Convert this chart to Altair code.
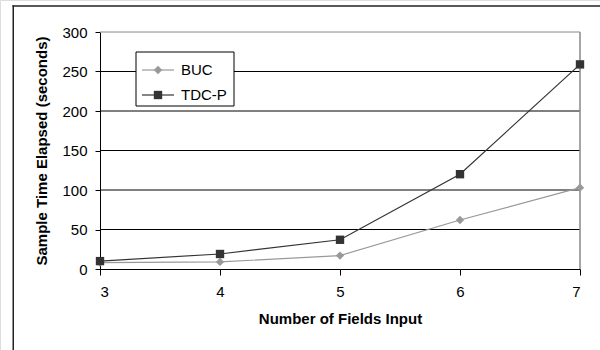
import altair as alt
import pandas as pd

# Number of input fields (x) and elapsed time in seconds for each algorithm
fields = [3, 4, 5, 6, 7]
buc_seconds = [8, 9, 17, 62, 103]
tdcp_seconds = [10, 19, 37, 120, 259]

series_names = ["BUC", "TDC-P"]
series_colors = ["#999999", "#333333"]
series_shapes = ["diamond", "square"]

y_ticks = [0, 50, 100, 150, 200, 250, 300]
grid_values = [50, 100, 150, 200, 250]

rows = []
for name, vals in zip(series_names, [buc_seconds, tdcp_seconds]):
    for f, v in zip(fields, vals):
        rows.append({"fields": f, "seconds": v, "series": name})
df = pd.DataFrame(rows)

FONT = "Liberation Sans"
CANVAS_W, CANVAS_H = 600, 350
# Plot region inside the full-canvas view
PX0, PX1 = 100, 580
PY_TOP, PY_BOTTOM = 32, 269

axis_text = dict(
    labelFont=FONT, labelFontSize=15, labelColor="black",
    titleFont=FONT, titleFontSize=15, titleFontWeight="bold", titleColor="black",
)

x_scale = alt.Scale(domain=[3, 7], range=[PX0, PX1], nice=False, zero=False)
y_scale = alt.Scale(domain=[0, 300], range=[PY_BOTTOM, PY_TOP], nice=False)

x_enc = alt.X(
    "fields:Q", scale=x_scale,
    axis=alt.Axis(
        values=fields, format="d", title="Number of Fields Input",
        grid=False, tickSize=6, tickColor="black", domainColor="black",
        labelPadding=9, titlePadding=12, offset=-(CANVAS_H - PY_BOTTOM), **axis_text,
    ),
)
y_axis = alt.Axis(
    values=y_ticks, title="Sample Time Elapsed (seconds)",
    grid=False, tickSize=5, tickColor="black", domainColor="black",
    labelPadding=8, titlePadding=12, offset=-PX0, **axis_text,
)
y_enc = alt.Y("seconds:Q", scale=y_scale, axis=y_axis)

color_enc = alt.Color(
    "series:N",
    scale=alt.Scale(domain=series_names, range=series_colors),
    legend=None,
)
shape_enc = alt.Shape(
    "series:N",
    scale=alt.Scale(domain=series_names, range=series_shapes),
    legend=None,
)

# Horizontal gridlines at the tick values, plus the grey top edge at 300
grid = alt.Chart(pd.DataFrame({"seconds": grid_values})).mark_rule(
    color="black", strokeWidth=1
).encode(y=y_enc, x=alt.value(PX0), x2=alt.value(PX1))
top_edge = alt.Chart(pd.DataFrame({"seconds": [300]})).mark_rule(
    color="#888888", strokeWidth=1
).encode(y=y_enc, x=alt.value(PX0), x2=alt.value(PX1))
right_edge = alt.Chart(pd.DataFrame({"seconds": [0, 300]})).mark_rule(
    color="#888888", strokeWidth=1
).encode(x=alt.value(PX1), y=alt.value(PY_TOP), y2=alt.value(PY_BOTTOM))

base = alt.Chart(df)
lines = base.mark_line(strokeWidth=1.2).encode(x=x_enc, y=y_enc, color=color_enc)
points = base.mark_point(filled=True, opacity=1, size=70).encode(
    x=x_enc, y=y_enc, color=color_enc, shape=shape_enc
)

one = pd.DataFrame({"k": [0]})

# Outer frame: dark strips along the top and left of the figure
frame_top = alt.Chart(one).mark_rect(fill="#222222", strokeWidth=0).encode(
    x=alt.value(12.5), x2=alt.value(CANVAS_W), y=alt.value(5.25), y2=alt.value(6.75)
)
frame_left = alt.Chart(one).mark_rect(fill="#222222", strokeWidth=0).encode(
    x=alt.value(12.5), x2=alt.value(14), y=alt.value(5.25), y2=alt.value(CANVAS_H)
)

# Boxed legend in the upper left of the plot
legend_box = alt.Chart(one).mark_rect(
    fill="white", stroke="black", strokeWidth=1
).encode(x=alt.value(136), x2=alt.value(234), y=alt.value(52), y2=alt.value(106))

legend_layers = [legend_box]
for i, (name, col, shp) in enumerate(zip(series_names, series_colors, series_shapes)):
    ypos = 70 + 25 * i
    ldf = pd.DataFrame({"series": [name]})
    legend_layers.append(
        alt.Chart(ldf).mark_rule(color=col, strokeWidth=1.2).encode(
            x=alt.value(142), x2=alt.value(174), y=alt.value(ypos)
        )
    )
    legend_layers.append(
        alt.Chart(ldf).mark_point(filled=True, opacity=1, size=70, color=col, shape=shp).encode(
            x=alt.value(158), y=alt.value(ypos)
        )
    )
    legend_layers.append(
        alt.Chart(ldf).mark_text(
            align="left", baseline="middle", font=FONT, fontSize=15, color="black"
        ).encode(x=alt.value(181), y=alt.value(ypos), text="series:N")
    )

chart = alt.layer(
    frame_top, frame_left, grid, top_edge, right_edge, lines, points, *legend_layers
).properties(
    width=CANVAS_W, height=CANVAS_H,
    autosize=alt.AutoSizeParams(type="none"),
    padding=0,
).configure_view(
    stroke="transparent", strokeWidth=0
).configure_axis(
    domainWidth=1, tickWidth=1,
).configure(background="white")

chart.save("out.html", embed_options={"renderer": "svg", "actions": False})
